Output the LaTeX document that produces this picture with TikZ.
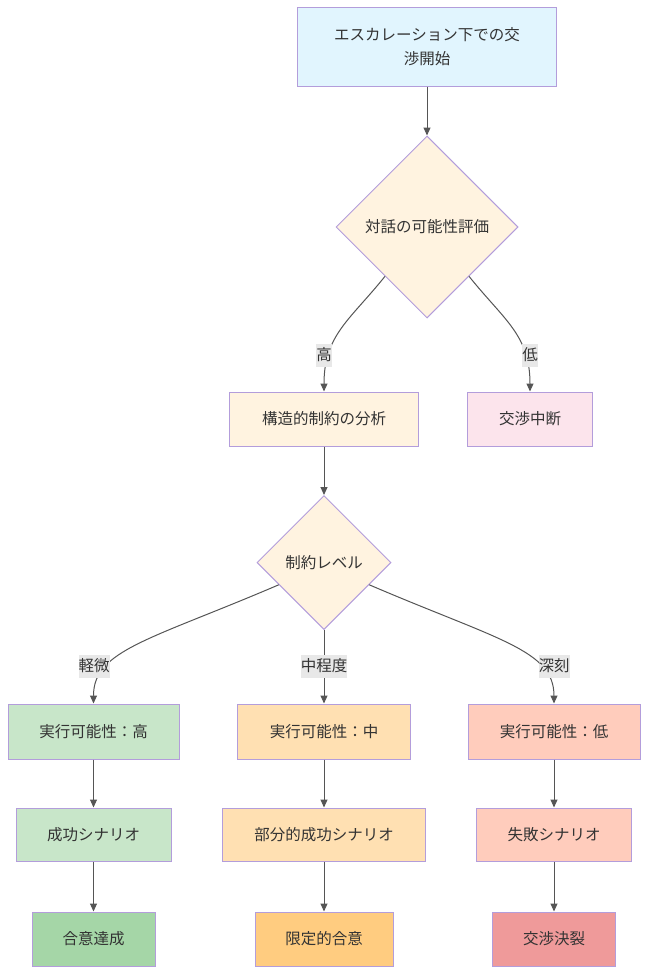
\documentclass[tikz,border=0pt]{standalone}
\usepackage{fontspec}
\setmainfont{Noto Sans CJK JP}
\usetikzlibrary{shapes.geometric,arrows.meta,calc}
\definecolor{strk}{HTML}{B39DDB}
\definecolor{txt}{HTML}{333333}
\definecolor{edge}{HTML}{555555}
\definecolor{cblue}{HTML}{E1F5FE}
\definecolor{cbeige}{HTML}{FFF3E0}
\definecolor{cpink}{HTML}{FCE4EC}
\definecolor{cgreen}{HTML}{C8E6C9}
\definecolor{corange}{HTML}{FFE0B2}
\definecolor{cred}{HTML}{FFCCBC}
\definecolor{dgreen}{HTML}{A5D6A7}
\definecolor{dorange}{HTML}{FFCC80}
\definecolor{dred}{HTML}{EF9A9A}
\definecolor{lblbg}{HTML}{E8E8E8}
\begin{document}
\begin{tikzpicture}[x=1pt,y=-1pt,
  font=\fontsize{15.5}{24}\selectfont,
  box/.style={draw=strk, line width=1pt, text=txt, inner sep=0pt, align=center, rectangle},
  dia/.style={draw=strk, line width=1pt, text=txt, inner sep=0pt, diamond, aspect=1, fill=cbeige},
  conn/.style={draw=edge, line width=1pt, -{Triangle[length=8pt,width=7pt]}},
  lbl/.style={fill=lblbg, text=txt, inner xsep=0pt, inner ysep=0pt, minimum height=23pt}]
\useasboundingbox (0,0) rectangle (648,974);
\node[box, fill=cblue, minimum width=259, minimum height=78] (n1) at (427,47) {エスカレーション下での交\\渉開始};
\node[dia, minimum width=182, minimum height=182] (d1) at (427,227) {対話の可能性評価};
\node[box, fill=cbeige, minimum width=189, minimum height=54] (n2) at (324,419) {構造的制約の分析};
\node[box, fill=cpink, minimum width=125, minimum height=54] (n3) at (530,419) {交渉中断};
\node[dia, minimum width=134, minimum height=134] (d2) at (324,562.5) {制約レベル};
\node[box, fill=cgreen, minimum width=171, minimum height=55] (r1) at (93.5,731.5) {実行可能性：高};
\node[box, fill=corange, minimum width=173, minimum height=55] (r2) at (324,731.5) {実行可能性：中};
\node[box, fill=cred, minimum width=172, minimum height=55] (r3) at (554,731.5) {実行可能性：低};
\node[box, fill=cgreen, minimum width=155, minimum height=53] (s1) at (93.5,834.5) {成功シナリオ};
\node[box, fill=corange, minimum width=203, minimum height=53] (s2) at (324,834.5) {部分的成功シナリオ};
\node[box, fill=cred, minimum width=155, minimum height=53] (s3) at (554,834.5) {失敗シナリオ};
\node[box, fill=dgreen, minimum width=123, minimum height=54] (t1) at (93.5,939) {合意達成};
\node[box, fill=dorange, minimum width=138, minimum height=54] (t2) at (324,939) {限定的合意};
\node[box, fill=dred, minimum width=123, minimum height=54] (t3) at (554,939) {交渉決裂};
\coordinate (d1l) at ($(d1.west)!0.54!(d1.south)$);
\coordinate (d1r) at ($(d1.east)!0.54!(d1.south)$);
\coordinate (d2l) at ($(d2.west)!0.33!(d2.south)$);
\coordinate (d2r) at ($(d2.east)!0.33!(d2.south)$);
\draw[conn] (n1.south) -- (d1.north);
\draw[conn] (d1l) .. controls (350,320) and (324,335) .. (n2.north);
\draw[conn] (d1r) .. controls (504,320) and (530,335) .. (n3.north);
\draw[conn] (n2.south) -- (d2.north);
\draw[conn] (d2l) .. controls (150,640) and (93.5,650) .. (r1.north);
\draw[conn] (d2.south) -- (r2.north);
\draw[conn] (d2r) .. controls (498,640) and (554,650) .. (r3.north);
\draw[conn] (r1.south) -- (s1.north);
\draw[conn] (r2.south) -- (s2.north);
\draw[conn] (r3.south) -- (s3.north);
\draw[conn] (s1.south) -- (t1.north);
\draw[conn] (s2.south) -- (t2.north);
\draw[conn] (s3.south) -- (t3.north);
\node[lbl] (l1) at (324,355) {高};
\node[lbl] (l2) at (530,355) {低};
\node[lbl] (l3) at (94,666) {軽微};
\node[lbl] (l4) at (324,666) {中程度};
\node[lbl] (l5) at (554,666) {深刻};
\end{tikzpicture}
\end{document}
